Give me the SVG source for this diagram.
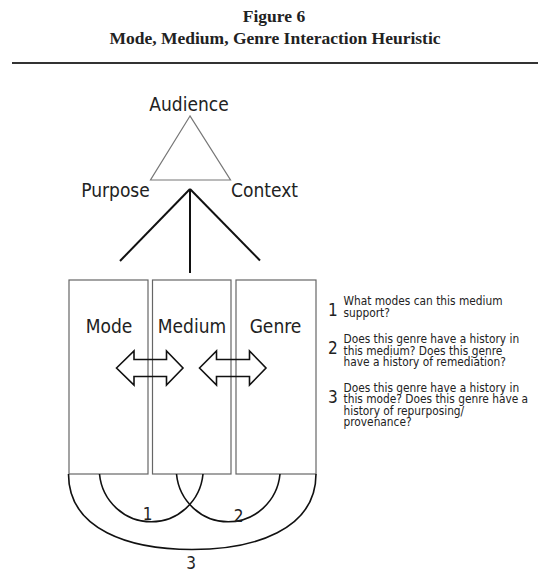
<svg xmlns="http://www.w3.org/2000/svg" width="538" height="584" viewBox="0 0 538 584">
<style>
.title{font-family:"Liberation Serif","Times New Roman",serif;font-weight:bold;font-size:17.5px;fill:#222;text-anchor:middle}
.lbl{font-family:"DejaVu Sans Condensed","DejaVu Sans",sans-serif;font-stretch:condensed;font-size:19px;fill:#222;text-anchor:middle}
.num{font-family:"DejaVu Sans Condensed","DejaVu Sans",sans-serif;font-stretch:condensed;font-size:17px;fill:#222}
.q{font-family:"DejaVu Sans Condensed","DejaVu Sans",sans-serif;font-stretch:condensed;font-size:11.8px;fill:#222}
.box{fill:#fff;stroke:#666;stroke-width:1.2}
.arrow{fill:none;stroke:#111;stroke-width:1.6;stroke-linejoin:miter}
.conn{fill:none;stroke:#111;stroke-width:2}
.arc{fill:none;stroke:#111;stroke-width:1.6}
</style>
<rect width="538" height="584" fill="#fff"/>
<g id="title">
<text class="title" x="274" y="22">Figure 6</text>
<text class="title" x="275" y="43.5">Mode, Medium, Genre Interaction Heuristic</text>
<rect x="12" y="62" width="526" height="2" fill="#333"/>
</g>
<g id="triangle">
<polygon points="190,116 150.5,180 230.5,180" fill="#fff" stroke="#777" stroke-width="1.2"/>
<text class="lbl" x="189" y="111">Audience</text>
<text class="lbl" x="115.5" y="196.5">Purpose</text>
<text class="lbl" x="264.5" y="196.5">Context</text>
</g>
<g id="connectors">
<line class="conn" x1="190" y1="189" x2="120" y2="261"/>
<line class="conn" x1="190" y1="189" x2="190" y2="273"/>
<line class="conn" x1="190" y1="189" x2="260" y2="260.5"/>
</g>
<g id="mode">
<rect class="box" x="69" y="280" width="79" height="194"/>
<text class="lbl" x="109" y="333">Mode</text>
</g>
<g id="medium">
<rect class="box" x="152.5" y="280" width="78.5" height="194"/>
<text class="lbl" x="192" y="333">Medium</text>
</g>
<g id="genre">
<rect class="box" x="236" y="280" width="80" height="194"/>
<text class="lbl" x="275.5" y="333">Genre</text>
</g>
<g id="arrows">
<polygon class="arrow" points="116.5,368 134,351 134,359.5 166.5,359.5 166.5,351 183,368 166.5,385 166.5,376.5 134,376.5 134,385"/>
<polygon class="arrow" points="199.5,368 216.5,351 216.5,359.5 249.5,359.5 249.5,351 266,368 249.5,385 249.5,376.5 216.5,376.5 216.5,385"/>
</g>
<g id="arcs">
<path class="arc" d="M99.5,474 A52,53 0 0 0 203,474"/>
<path class="arc" d="M176.5,474 A52,53 0 0 0 280,474"/>
<path class="arc" d="M68.5,474 C68.5,530 130,549.5 192,549.5 C254,549.5 316,530 316,474"/>
<text class="num" x="147.5" y="519.5" text-anchor="middle">1</text>
<text class="num" x="238.5" y="522" text-anchor="middle">2</text>
<text class="num" x="191" y="569" text-anchor="middle">3</text>
</g>
<g id="questions">
<text class="num" x="328" y="315.5">1</text>
<text class="q" x="343.5" y="305">What modes can this medium</text>
<text class="q" x="343.5" y="316.5">support?</text>
<text class="num" x="328" y="354">2</text>
<text class="q" x="343.5" y="343">Does this genre have a history in</text>
<text class="q" x="343.5" y="354.5">this medium? Does this genre</text>
<text class="q" x="343.5" y="366">have a history of remediation?</text>
<text class="num" x="328" y="403">3</text>
<text class="q" x="343.5" y="391.5">Does this genre have a history in</text>
<text class="q" x="343.5" y="403">this mode? Does this genre have a</text>
<text class="q" x="343.5" y="414.5">history of repurposing/</text>
<text class="q" x="343.5" y="426">provenance?</text>
</g>
</svg>
